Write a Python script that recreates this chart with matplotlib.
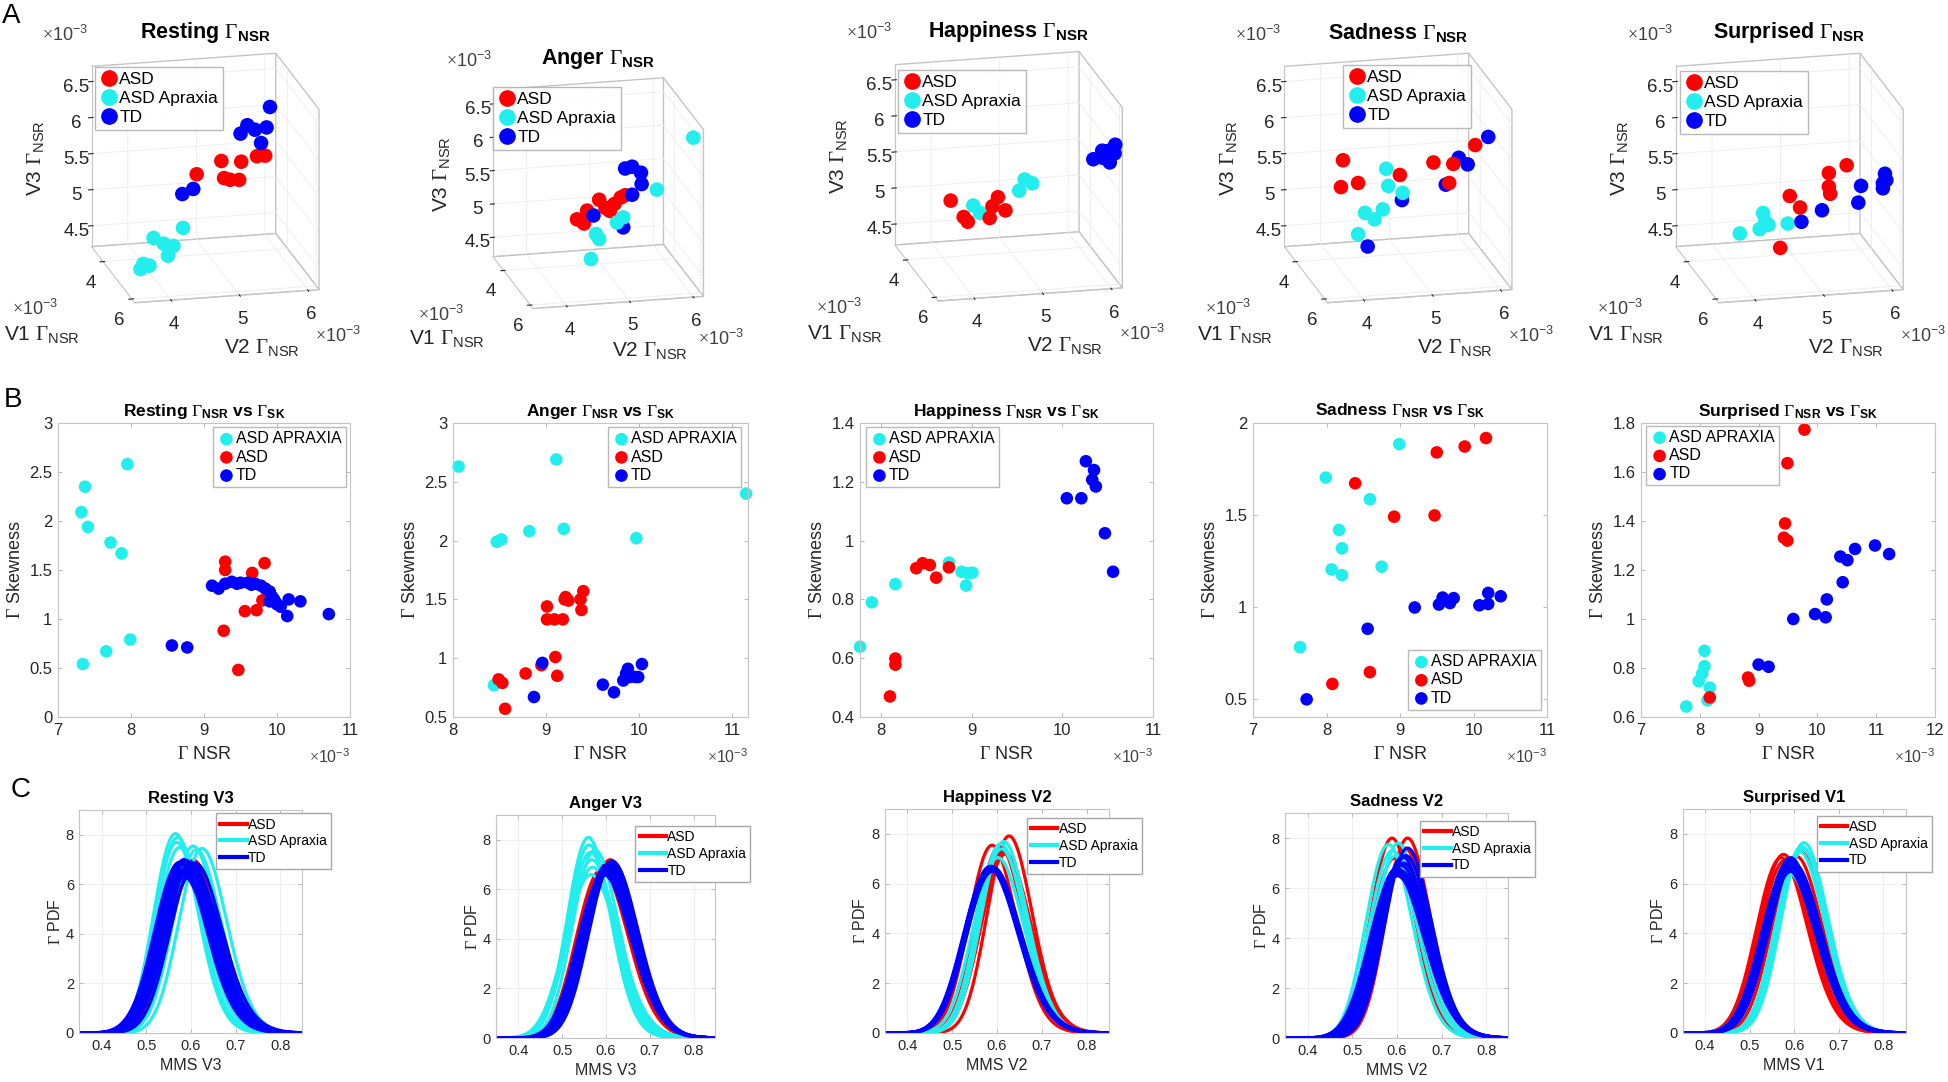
import math

import matplotlib
matplotlib.use("Agg")
import matplotlib.pyplot as plt
import numpy as np
from matplotlib.lines import Line2D
from mpl_toolkits.mplot3d import proj3d

plt.rcParams["font.family"] = ["Liberation Sans", "DejaVu Sans"]
plt.rcParams["mathtext.fontset"] = "custom"
plt.rcParams["mathtext.rm"] = "Liberation Serif"
plt.rcParams["mathtext.sf"] = "Liberation Sans"
plt.rcParams["mathtext.bf"] = "Liberation Sans:bold"
plt.rcParams["mathtext.it"] = "Liberation Serif:italic"

W, H = 1949, 1082
RED, CYAN, BLUE = "#ff0000", "#22eeee", "#0000ff"
TXT = "#262626"
EDGE = "#c4c4c4"

EMOTIONS = ["Resting", "Anger", "Happiness", "Sadness", "Surprised"]
PDF_VAR = ["V3", "V3", "V2", "V2", "V1"]

# ---------------- row A: V1 / V2 / V3 Gamma NSR (x 1e-3) ----------------
V2_LIM = (3.47, 6.16)
V1_LIM = (3.2, 6.2)
V3_LIM = (4.21, 6.71)

a_rest_asd_v2 = [4.69, 5.05, 5.09, 5.18, 5.31, 5.34, 5.57, 5.69]
a_rest_asd_v3 = [5.52, 5.68, 5.44, 5.41, 5.40, 5.65, 5.71, 5.71]
a_rest_asd_v1 = [4.7] * 8
a_rest_apx_v2 = [3.87, 4.00, 4.06, 4.21, 4.35, 4.27, 4.49, 3.91]
a_rest_apx_v3 = [4.26, 4.30, 4.68, 4.59, 4.55, 4.42, 4.79, 4.33]
a_rest_apx_v1 = [4.7] * 8
a_rest_td_v2 = [4.48, 4.64, 5.33, 5.43, 5.54, 5.71, 5.63, 5.76]
a_rest_td_v3 = [5.26, 5.32, 6.04, 6.15, 6.08, 6.10, 5.89, 6.38]
a_rest_td_v1 = [4.7] * 8

a_ang_asd_v2 = [4.48, 4.59, 4.64, 4.83, 4.93, 5.00, 5.07, 5.17, 5.24]
a_ang_asd_v3 = [5.09, 5.02, 5.21, 5.36, 5.23, 5.18, 5.28, 5.37, 5.40]
a_ang_asd_v1 = [4.7] * 9
a_ang_apx_v2 = [4.70, 4.83, 4.78, 5.11, 5.21, 5.74, 6.00]
a_ang_apx_v3 = [4.48, 4.77, 4.85, 5.00, 5.07, 5.45, 6.60]
a_ang_apx_v1 = [4.7, 4.7, 4.7, 4.7, 4.7, 4.7, 6.2]
a_ang_td_v2 = [4.74, 5.21, 5.24, 5.35, 5.49, 5.50, 5.35]
a_ang_td_v3 = [5.13, 4.92, 5.80, 5.82, 5.72, 5.55, 5.40]
a_ang_td_v1 = [4.7] * 7

a_hap_asd_v2 = [3.97, 4.16, 4.22, 4.54, 4.58, 4.66, 4.77]
a_hap_asd_v3 = [5.18, 4.94, 4.87, 4.90, 5.06, 5.18, 4.99]
a_hap_asd_v1 = [4.7] * 7
a_hap_apx_v2 = [4.30, 4.40, 4.97, 5.05, 5.16]
a_hap_apx_v3 = [5.09, 4.98, 5.25, 5.40, 5.34]
a_hap_apx_v1 = [4.7] * 5
a_hap_td_v2 = [5.80, 5.93, 6.04, 6.12, 6.11, 6.01, 5.94]
a_hap_td_v3 = [5.94, 6.05, 5.88, 6.12, 6.00, 6.04, 5.95]
a_hap_td_v1 = [5.9] * 7

a_sad_asd_v2 = [4.01, 3.98, 4.23, 4.84, 5.33, 5.62, 5.56, 5.94]
a_sad_asd_v3 = [5.76, 5.39, 5.43, 5.50, 5.64, 5.60, 5.34, 5.84]
a_sad_asd_v1 = [4.7] * 8
a_sad_apx_v2 = [4.33, 4.47, 4.23, 4.64, 4.67, 4.59, 4.88]
a_sad_apx_v3 = [5.01, 4.91, 4.72, 5.60, 5.36, 5.04, 5.25]
a_sad_apx_v1 = [4.7] * 7
a_sad_td_v2 = [4.37, 4.87, 5.51, 5.70, 5.83, 6.13]
a_sad_td_v3 = [4.54, 5.15, 5.32, 5.68, 5.58, 5.94]
a_sad_td_v1 = [4.7] * 6

a_sur_asd_v2 = [5.65, 5.39, 5.39, 5.41, 4.82, 4.97, 4.68]
a_sur_asd_v3 = [5.58, 5.49, 5.30, 5.20, 5.21, 5.04, 4.50]
a_sur_asd_v1 = [4.7] * 7
a_sur_apx_v2 = [4.09, 4.38, 4.43, 4.46, 4.51, 4.79]
a_sur_apx_v3 = [4.74, 4.78, 5.00, 4.88, 4.83, 4.83]
a_sur_apx_v1 = [4.7] * 6
a_sur_td_v2 = [4.99, 5.29, 5.82, 5.86, 5.99, 6.02, 6.04, 5.99]
a_sur_td_v3 = [4.84, 4.98, 5.05, 5.28, 5.47, 5.67, 5.58, 5.54]
a_sur_td_v1 = [4.7, 4.7, 4.7, 4.7, 5.6, 5.6, 5.6, 5.6]

# ---------------- row B: Gamma NSR (x 1e-3) vs Gamma skewness ----------------
b_rest_apx_x = [7.37, 7.32, 7.41, 7.95, 7.72, 7.87, 7.99, 7.66, 7.34]
b_rest_apx_y = [2.35, 2.09, 1.94, 2.58, 1.78, 1.67, 0.79, 0.67, 0.54]
b_rest_asd_x = [9.29, 9.29, 9.83, 9.66, 9.80, 9.56, 9.72, 9.27, 9.47, 9.90, 9.95]
b_rest_asd_y = [1.585, 1.50, 1.57, 1.47, 1.19, 1.08, 1.09, 0.88, 0.48, 1.25, 1.20]
b_rest_td_x = [9.11, 9.20, 9.29, 9.38, 9.50, 9.60, 9.70, 9.78, 9.84, 9.90, 9.93, 9.90,
               9.98, 10.05, 10.16, 10.14, 10.32, 10.71, 8.56, 8.77, 9.45, 9.65, 9.96, 10.0]
b_rest_td_y = [1.34, 1.31, 1.36, 1.38, 1.37, 1.37, 1.36, 1.34, 1.31, 1.28, 1.23, 1.18,
               1.17, 1.125, 1.20, 1.03, 1.18, 1.05, 0.73, 0.71, 1.36, 1.35, 1.20, 1.15]

b_ang_apx_x = [8.06, 8.47, 8.52, 8.82, 9.11, 9.19, 9.97, 11.15, 8.44]
b_ang_apx_y = [2.63, 1.99, 2.01, 2.08, 2.69, 2.10, 2.02, 2.40, 0.77]
b_ang_asd_x = [9.01, 9.01, 9.09, 9.18, 9.20, 9.21, 9.24, 9.38, 9.40, 9.37, 9.10, 9.12,
               8.78, 8.95, 8.49, 8.53, 8.56]
b_ang_asd_y = [1.44, 1.33, 1.33, 1.33, 1.50, 1.52, 1.49, 1.41, 1.57, 1.50, 1.01, 0.85,
               0.87, 0.94, 0.82, 0.79, 0.57]
b_ang_td_x = [8.96, 8.87, 9.61, 9.73, 9.83, 9.88, 9.90, 9.96, 9.99, 10.03, 9.86]
b_ang_td_y = [0.96, 0.67, 0.775, 0.71, 0.81, 0.91, 0.84, 0.84, 0.84, 0.95, 0.87]

b_hap_apx_x = [7.77, 7.90, 8.16, 8.75, 8.89, 8.96, 9.01, 8.94]
b_hap_apx_y = [0.639, 0.79, 0.852, 0.925, 0.894, 0.889, 0.891, 0.847]
b_hap_asd_x = [8.39, 8.46, 8.54, 8.61, 8.75, 8.16, 8.16, 8.10]
b_hap_asd_y = [0.906, 0.923, 0.917, 0.874, 0.909, 0.599, 0.578, 0.47]
b_hap_td_x = [10.26, 10.35, 10.33, 10.37, 10.05, 10.21, 10.47, 10.56]
b_hap_td_y = [1.27, 1.24, 1.207, 1.184, 1.144, 1.144, 1.025, 0.894]

b_sad_apx_x = [8.99, 7.99, 8.59, 8.17, 8.21, 8.07, 8.21, 8.75, 7.64]
b_sad_apx_y = [1.885, 1.703, 1.585, 1.418, 1.318, 1.203, 1.172, 1.218, 0.78]
b_sad_asd_x = [10.17, 9.88, 9.50, 8.39, 8.92, 9.47, 8.59, 8.08]
b_sad_asd_y = [1.918, 1.872, 1.84, 1.672, 1.49, 1.497, 0.644, 0.58]
b_sad_td_x = [9.20, 9.53, 9.58, 9.68, 9.73, 10.08, 10.20, 10.20, 10.37, 8.56, 7.73]
b_sad_td_y = [0.996, 1.012, 1.05, 1.02, 1.047, 1.008, 1.015, 1.075, 1.057, 0.88, 0.496]

b_sur_apx_x = [8.08, 8.08, 8.04, 7.98, 8.17, 8.13, 7.77]
b_sur_apx_y = [0.87, 0.807, 0.777, 0.746, 0.72, 0.668, 0.643]
b_sur_asd_x = [9.78, 9.49, 9.45, 9.43, 9.49, 8.82, 8.84, 8.17]
b_sur_asd_y = [1.773, 1.636, 1.39, 1.332, 1.32, 0.761, 0.748, 0.68]
b_sur_td_x = [10.98, 11.22, 10.64, 10.39, 10.51, 10.43, 10.16, 9.96, 10.14, 9.59, 9.00, 9.17]
b_sur_td_y = [1.30, 1.265, 1.286, 1.255, 1.24, 1.15, 1.08, 1.02, 1.007, 1.00, 0.814, 0.805]

b_xlims = [(7, 11), (8, 11.17), (7.77, 11), (7, 11), (7, 12)]
b_ylims = [(0, 3), (0.5, 3), (0.4, 1.4), (0.4, 2), (0.6, 1.8)]
b_yticks = [[0, 0.5, 1, 1.5, 2, 2.5, 3], [0.5, 1, 1.5, 2, 2.5, 3],
            [0.4, 0.6, 0.8, 1, 1.2, 1.4], [0.5, 1, 1.5, 2],
            [0.6, 0.8, 1, 1.2, 1.4, 1.6, 1.8]]
b_xticks = [[7, 8, 9, 10, 11], [8, 9, 10, 11], [8, 9, 10, 11], [7, 8, 9, 10, 11],
            [7, 8, 9, 10, 11, 12]]

# ---------------- row C: per-subject Gamma PDF fits (mode, peak height) ----------------
c_rest_asd_mode = [0.585, 0.590, 0.598, 0.605, 0.600, 0.592]
c_rest_asd_peak = [7.0, 6.9, 6.95, 6.98, 6.8, 6.7]
c_rest_apx_mode = [0.565, 0.570, 0.568, 0.575, 0.605, 0.612, 0.625, 0.585]
c_rest_apx_peak = [8.05, 7.9, 7.7, 7.5, 7.55, 7.4, 7.45, 6.6]
c_rest_td_mode = [0.575, 0.580, 0.585, 0.590, 0.595, 0.600, 0.605, 0.580, 0.590, 0.600,
                  0.585, 0.595, 0.610]
c_rest_td_peak = [6.9, 6.8, 7.0, 6.7, 6.6, 6.9, 6.5, 6.4, 6.95, 6.75, 6.3, 6.6, 6.85]

c_ang_asd_mode = [0.595, 0.600, 0.605, 0.610, 0.590]
c_ang_asd_peak = [6.9, 7.0, 7.1, 7.2, 6.8]
c_ang_apx_mode = [0.560, 0.562, 0.565, 0.568, 0.570, 0.566, 0.575]
c_ang_apx_peak = [8.1, 7.8, 7.5, 7.2, 6.9, 6.6, 7.6]
c_ang_td_mode = [0.600, 0.605, 0.610, 0.614, 0.598, 0.602, 0.608, 0.612, 0.616, 0.595,
                 0.604, 0.610]
c_ang_td_peak = [6.6, 6.8, 6.9, 7.15, 6.7, 7.0, 6.85, 7.05, 7.1, 6.6, 6.75, 6.95]

c_hap_asd_mode = [0.627, 0.606, 0.619, 0.589, 0.615]
c_hap_asd_peak = [7.92, 7.5, 7.2, 7.55, 7.3]
c_hap_apx_mode = [0.615, 0.610, 0.602, 0.608]
c_hap_apx_peak = [7.7, 7.4, 7.05, 7.6]
c_hap_td_mode = [0.585, 0.587, 0.589, 0.591, 0.588, 0.586, 0.590, 0.592, 0.584, 0.589]
c_hap_td_peak = [6.7, 6.65, 6.6, 6.55, 6.7, 6.6, 6.5, 6.65, 6.6, 6.55]

c_sad_asd_mode = [0.589, 0.624, 0.600, 0.595, 0.618]
c_sad_asd_peak = [8.0, 8.0, 6.5, 7.2, 7.6]
c_sad_apx_mode = [0.581, 0.603, 0.590, 0.597, 0.610]
c_sad_apx_peak = [7.75, 7.8, 7.5, 7.3, 7.1]
c_sad_td_mode = [0.624, 0.613, 0.600, 0.605, 0.610, 0.615, 0.602, 0.620, 0.608, 0.598]
c_sad_td_peak = [7.6, 7.25, 6.8, 6.6, 6.9, 7.0, 6.5, 7.3, 6.7, 6.6]

c_sur_asd_mode = [0.576, 0.614, 0.571, 0.580, 0.605]
c_sur_asd_peak = [7.18, 7.3, 7.05, 6.95, 7.1]
c_sur_apx_mode = [0.622, 0.617, 0.587, 0.620, 0.612]
c_sur_apx_peak = [7.65, 7.5, 6.45, 7.4, 7.3]
c_sur_td_mode = [0.592, 0.587, 0.595, 0.590, 0.598, 0.585, 0.600, 0.593, 0.589, 0.596]
c_sur_td_peak = [7.05, 6.85, 6.9, 6.7, 6.75, 6.6, 6.8, 6.5, 6.95, 6.65]

# ---------------- layout (pixels, origin top-left) ----------------
A_BLB = [(91.5, 246.7), (493.0, 256.7), (894.8, 245.0), (1284.4, 246.7), (1675.7, 246.7)]
A_SCALE = [1.0, 0.925, 1.0, 1.0, 1.0]
A_LEG = [(95, 67), (493, 87), (898, 70), (1343, 65), (1680, 71)]
B_X = [(58, 292), (453, 295), (860, 293), (1253, 294), (1641, 294)]
B_Y = (423, 294)
B_LEG = [("upper right", (0.985, 0.985)), ("upper right", (0.975, 0.985)),
         ("upper left", (0.02, 0.985)), ("lower right", (0.978, 0.025)),
         ("upper left", (0.017, 0.99))]
C_BOX = [(79.5, 810, 223, 223), (496.4, 815, 219, 223), (885, 809, 224, 224),
         (1285.4, 813, 223, 225), (1682.7, 809, 223, 224)]
C_LEG = [(1.128, 0.985), (1.16, 0.95), (1.146, 0.96), (1.12, 0.966), (1.117, 0.97)]


def fx(x):
    return x / W


def fy(y):
    return 1 - y / H


def gamma_pdf(x, mode, peak):
    sd = 1.0 / (peak * np.sqrt(2 * np.pi))
    theta = sd ** 2 / mode
    k = mode / theta + 1
    logp = (k - 1) * np.log(x) - x / theta - k * np.log(theta) - math.lgamma(k)
    return np.exp(logp)


fig = plt.figure(figsize=(W / 100, H / 100), dpi=100)

# ---------------- row A ----------------
a_sets = [
    ((a_rest_asd_v1, a_rest_asd_v2, a_rest_asd_v3), (a_rest_apx_v1, a_rest_apx_v2, a_rest_apx_v3),
     (a_rest_td_v1, a_rest_td_v2, a_rest_td_v3)),
    ((a_ang_asd_v1, a_ang_asd_v2, a_ang_asd_v3), (a_ang_apx_v1, a_ang_apx_v2, a_ang_apx_v3),
     (a_ang_td_v1, a_ang_td_v2, a_ang_td_v3)),
    ((a_hap_asd_v1, a_hap_asd_v2, a_hap_asd_v3), (a_hap_apx_v1, a_hap_apx_v2, a_hap_apx_v3),
     (a_hap_td_v1, a_hap_td_v2, a_hap_td_v3)),
    ((a_sad_asd_v1, a_sad_asd_v2, a_sad_asd_v3), (a_sad_apx_v1, a_sad_apx_v2, a_sad_apx_v3),
     (a_sad_td_v1, a_sad_td_v2, a_sad_td_v3)),
    ((a_sur_asd_v1, a_sur_asd_v2, a_sur_asd_v3), (a_sur_apx_v1, a_sur_apx_v2, a_sur_apx_v3),
     (a_sur_td_v1, a_sur_td_v2, a_sur_td_v3)),
]

axes3d = []
for i, groups in enumerate(a_sets):
    ax = fig.add_axes([0, 0, 400 / W, 400 / H], projection="3d")
    ax.set_facecolor("none")
    ax.set_proj_type("ortho")
    ax.view_init(elev=17.7, azim=-103.2)
    ax.set_box_aspect((1, 1, 1))
    for (v1, v2, v3), col in zip(groups, [RED, CYAN, BLUE]):
        ax.scatter(v2, v1, v3, s=110, color=col, depthshade=False, edgecolors="none")
    ax.set_xlim(*V2_LIM)
    ax.set_ylim(V1_LIM[1], V1_LIM[0])
    ax.set_zlim(*V3_LIM)
    ax.set_xticks([4, 5, 6])
    ax.set_yticks([4, 6])
    ax.set_zticks([4.5, 5, 5.5, 6, 6.5])
    ax.set_zticklabels(["4.5", "5", "5.5", "6", "6.5"])
    for axis in (ax.xaxis, ax.yaxis, ax.zaxis):
        axis.set_pane_color((1, 1, 1, 1))
        axis.pane.set_edgecolor(EDGE)
        axis.line.set_color(EDGE)
        axis._axinfo["grid"]["color"] = "#ececec"
        axis._axinfo["grid"]["linewidth"] = 0.6
        axis._axinfo["tick"]["color"] = EDGE
    ax.tick_params(labelsize=13.5, colors=TXT, pad=0)
    handles = [Line2D([], [], marker="o", ls="none", color=c, markersize=11)
               for c in (RED, CYAN, BLUE)]
    lx, ly = A_LEG[i]
    ax.legend(handles, ["ASD", "ASD Apraxia", "TD"], loc="upper left",
              bbox_to_anchor=(fx(lx), fy(ly)), bbox_transform=fig.transFigure,
              fontsize=12.5, frameon=True, fancybox=False, edgecolor="#a8a8a8",
              borderpad=0.3, handletextpad=0.1, handlelength=1.0, labelspacing=0.2,
              borderaxespad=0)
    axes3d.append(ax)

# move each 3-D axes so that its box lands where the reference box is
for _ in range(3):
    fig.canvas.draw()
    for ax, blb, k in zip(axes3d, A_BLB, A_SCALE):
        M = ax.get_proj()
        xs, ys, _z = proj3d.proj_transform(np.array([V2_LIM[0], V2_LIM[1]]),
                                           np.array([V1_LIM[0], V1_LIM[1]]),
                                           np.array([V3_LIM[0], V3_LIM[0]]), M)
        d = ax.transData.transform(np.column_stack([xs, ys]))
        pos = ax.get_position()
        px0, py0, pw, ph = pos.x0 * W, pos.y0 * H, pos.width * W, pos.height * H
        u = (d[0, 0] - px0) / pw
        v = (d[0, 1] - py0) / ph
        s = 227.5 * k / (d[1, 0] - d[0, 0])
        nw, nh = pw * s, ph * s
        ax.set_position([(blb[0] - u * nw) / W, (H - blb[1] - v * nh) / H, nw / W, nh / H])

for i, (blb, k) in enumerate(zip(A_BLB, A_SCALE)):
    bx, by = blb
    fig.text(fx(bx + 113.5 * k), fy(by - 214 * k),
             EMOTIONS[i] + r" $\Gamma_{\mathbf{NSR}}$", ha="center", va="center",
             fontsize=15.5, fontweight="bold", color="black")
    for (ox, oy) in [(-26, -211.7), (-56, 62.5), (247, 89)]:
        fig.text(fx(bx + ox * k), fy(by + oy * k), r"$\times\mathsf{10^{-3}}$",
                 ha="center", va="center", fontsize=13, color="#404040")
    fig.text(fx(bx - 56 * k), fy(by - 89 * k), r"V3 $\Gamma_{\mathsf{NSR}}$", rotation=90,
             ha="center", va="center", fontsize=15, color=TXT)
    fig.text(fx(bx - 49.5 * k), fy(by + 88 * k), r"V1 $\Gamma_{\mathsf{NSR}}$",
             ha="center", va="center", fontsize=15, color=TXT)
    fig.text(fx(bx + 170 * k), fy(by + 101 * k), r"V2 $\Gamma_{\mathsf{NSR}}$",
             ha="center", va="center", fontsize=15, color=TXT)

# ---------------- row B ----------------
b_sets = [
    ((b_rest_apx_x, b_rest_apx_y), (b_rest_asd_x, b_rest_asd_y), (b_rest_td_x, b_rest_td_y)),
    ((b_ang_apx_x, b_ang_apx_y), (b_ang_asd_x, b_ang_asd_y), (b_ang_td_x, b_ang_td_y)),
    ((b_hap_apx_x, b_hap_apx_y), (b_hap_asd_x, b_hap_asd_y), (b_hap_td_x, b_hap_td_y)),
    ((b_sad_apx_x, b_sad_apx_y), (b_sad_asd_x, b_sad_asd_y), (b_sad_td_x, b_sad_td_y)),
    ((b_sur_apx_x, b_sur_apx_y), (b_sur_asd_x, b_sur_asd_y), (b_sur_td_x, b_sur_td_y)),
]


def style_2d(ax, labelsize):
    for sp in ax.spines.values():
        sp.set_color(EDGE)
        sp.set_linewidth(0.8)
    ax.tick_params(direction="in", length=3, width=0.6, color="#b0b0b0",
                   top=True, right=True, labelsize=labelsize, labelcolor=TXT, pad=4)


for i, groups in enumerate(b_sets):
    x0, w = B_X[i]
    ax = fig.add_axes([fx(x0), fy(B_Y[0] + B_Y[1]), w / W, B_Y[1] / H])
    for (xv, yv), col, lab in zip(groups, [CYAN, RED, BLUE], ["ASD APRAXIA", "ASD", "TD"]):
        ax.scatter(xv, yv, s=82, color=col, edgecolors="none", label=lab, clip_on=False)
    ax.set_xlim(*b_xlims[i])
    ax.set_ylim(*b_ylims[i])
    ax.set_xticks(b_xticks[i])
    ax.set_yticks(b_yticks[i])
    ax.set_yticklabels([f"{t:g}" for t in b_yticks[i]])
    style_2d(ax, 12)
    ax.set_title(EMOTIONS[i] + r" $\Gamma_{\mathbf{NSR}}$ vs $\Gamma_{\mathbf{SK}}$",
                 fontsize=12.5, fontweight="bold", pad=5)
    ax.set_xlabel(r"$\Gamma$ NSR", fontsize=13, color=TXT, labelpad=6)
    ax.set_ylabel(r"$\Gamma$ Skewness", fontsize=13, color=TXT, labelpad=4)
    ax.text(1.0, -0.135, r"$\times\mathsf{10^{-3}}$", transform=ax.transAxes,
            ha="right", va="center", fontsize=11.5, color="#404040")
    loc, anchor = B_LEG[i]
    ax.legend(loc=loc, bbox_to_anchor=anchor, fontsize=11.5, frameon=True, fancybox=False,
              edgecolor="#a8a8a8", borderpad=0.25, handletextpad=0.0, handlelength=1.2,
              labelspacing=0.2, borderaxespad=0, markerscale=1.0)

# ---------------- row C ----------------
c_sets = [
    ((c_rest_asd_mode, c_rest_asd_peak), (c_rest_apx_mode, c_rest_apx_peak),
     (c_rest_td_mode, c_rest_td_peak)),
    ((c_ang_asd_mode, c_ang_asd_peak), (c_ang_apx_mode, c_ang_apx_peak),
     (c_ang_td_mode, c_ang_td_peak)),
    ((c_hap_asd_mode, c_hap_asd_peak), (c_hap_apx_mode, c_hap_apx_peak),
     (c_hap_td_mode, c_hap_td_peak)),
    ((c_sad_asd_mode, c_sad_asd_peak), (c_sad_apx_mode, c_sad_apx_peak),
     (c_sad_td_mode, c_sad_td_peak)),
    ((c_sur_asd_mode, c_sur_asd_peak), (c_sur_apx_mode, c_sur_apx_peak),
     (c_sur_td_mode, c_sur_td_peak)),
]
xs = np.linspace(0.35, 0.85, 400)
for i, groups in enumerate(c_sets):
    x0, y0, w, h = C_BOX[i]
    ax = fig.add_axes([fx(x0), fy(y0 + h), w / W, h / H])
    for (modes, peaks), col, lab in zip(groups, [RED, CYAN, BLUE], ["ASD", "ASD Apraxia", "TD"]):
        for j, (m, p) in enumerate(zip(modes, peaks)):
            ax.plot(xs, gamma_pdf(xs, m, p), color=col, lw=2.3,
                    label=lab if j == 0 else None)
    ax.set_xlim(0.35, 0.85)
    ax.set_ylim(0, 9)
    ax.set_xticks([0.4, 0.5, 0.6, 0.7, 0.8])
    ax.set_yticks([0, 2, 4, 6, 8])
    ax.grid(True, color="#ececec", lw=0.6)
    style_2d(ax, 10.5)
    ax.set_title(EMOTIONS[i] + " " + PDF_VAR[i], fontsize=12, fontweight="bold", pad=5)
    ax.set_xlabel("MMS " + PDF_VAR[i], fontsize=11.5, color=TXT, labelpad=4)
    ax.set_ylabel(r"$\Gamma$ PDF", fontsize=11.5, color=TXT, labelpad=2)
    leg = ax.legend(loc="upper right", bbox_to_anchor=C_LEG[i], fontsize=10, frameon=True,
                    fancybox=False, edgecolor="#a8a8a8", framealpha=1, borderpad=0.3,
                    handletextpad=0.1, handlelength=1.9, labelspacing=0.2, borderaxespad=0)
    for ln in leg.get_lines():
        ln.set_linewidth(3)

for letter, (x, y) in zip("ABC", [(11, 16), (12.5, 400), (21, 790)]):
    fig.text(fx(x), fy(y), letter, ha="center", va="center", fontsize=20, color="black")

fig.savefig("out.png", dpi=100)
